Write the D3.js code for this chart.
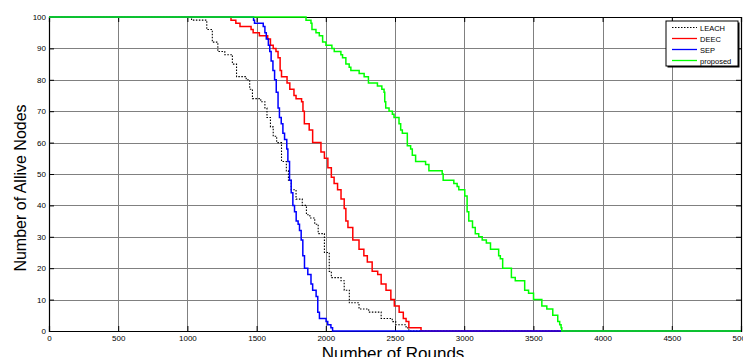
<!DOCTYPE html>
<html>
<head>
<meta charset="utf-8">
<script src="https://cdn.jsdelivr.net/npm/d3@7"></script>
<style>
  body { margin: 0; background: #fff; }
  svg { display: block; font-family: Arial, "Liberation Sans", sans-serif; }
</style>
</head>
<body>
<div id="chart"></div>
<script>
// data: [round, alive nodes] where the count changes
const leach = [[0,100],[1030,99],[1140,96],[1180,92],[1220,89],[1270,88],[1325,85],[1355,81],[1425,80],[1450,77],[1470,74],[1530,73],[1560,71],[1575,68],[1600,65],[1620,62],[1645,60],[1680,54],[1715,51],[1730,48],[1750,45],[1785,42],[1830,40],[1860,37],[1885,36],[1920,34],[1945,31],[1990,25],[2025,19],[2040,17],[2110,16],[2133,13],[2170,9],[2240,7],[2310,6],[2400,4],[2480,3],[2505,2],[2580,1],[2600,0],[5000,0]];
const deec = [[0,100],[1315,99],[1350,98],[1380,97],[1460,96],[1475,95],[1520,94],[1580,93],[1600,91],[1620,90],[1640,89],[1655,87],[1670,83],[1680,81],[1720,79],[1740,77],[1770,75],[1785,74],[1825,73],[1835,70],[1845,66],[1880,64],[1905,60],[1965,57],[1990,55],[2015,52],[2040,49],[2060,47],[2085,45],[2110,42],[2133,39],[2145,35],[2160,33],[2195,29],[2240,26],[2275,24],[2300,22],[2335,19],[2375,18],[2400,15],[2435,13],[2470,10],[2495,8],[2530,6],[2560,4],[2580,3],[2600,1],[2688,0],[5000,0]];
const sep = [[0,100],[1478,99],[1485,98],[1548,97],[1560,95],[1570,93],[1585,91],[1595,89],[1605,86],[1618,83],[1630,80],[1642,76],[1655,71],[1665,68],[1678,66],[1690,63],[1702,61],[1718,58],[1726,54],[1738,48],[1750,44],[1762,40],[1774,38],[1786,35],[1800,34],[1810,32],[1822,29],[1834,24],[1846,20],[1870,18],[1893,15],[1905,13],[1930,11],[1942,6],[1954,4],[2002,3],[2014,2],[2037,1],[2049,0],[5000,0]];
const proposed = [[0,100],[1857,99],[1893,98],[1900,96],[1929,95],[1953,94],[1977,92],[2001,91],[2044,90],[2061,89],[2109,88],[2121,87],[2145,85],[2169,84],[2181,83],[2241,82],[2277,81],[2308,79],[2373,78],[2405,77],[2421,76],[2426,73],[2433,71],[2457,70],[2481,69],[2493,68],[2529,66],[2541,64],[2553,63],[2589,59],[2613,58],[2625,56],[2649,54],[2721,53],[2745,51],[2841,50],[2848,48],[2925,47],[2949,46],[2961,45],[3004,43],[3021,38],[3033,35],[3060,33],[3080,31],[3105,30],[3130,29],[3160,28],[3190,26],[3249,24],[3261,23],[3278,20],[3341,17],[3369,16],[3437,13],[3465,12],[3501,10],[3561,8],[3597,7],[3640,5],[3676,3],[3690,2],[3700,1],[3705,0],[5000,0]];

const xTicks = [0,500,1000,1500,2000,2500,3000,3500,4000,4500,5000];
const yTicks = [0,10,20,30,40,50,60,70,80,90,100];
const seriesNames = ["LEACH","DEEC","SEP","proposed"];
const seriesData = [leach, deec, sep, proposed];
const seriesColors = ["#000000","#ff0000","#0000ff","#00ff00"];

const W = 743, H = 357;
const margin = {top: 17, right: 2, bottom: 26, left: 49};

let svg = d3.select('#chart')
  .append("svg")
    .attr("width", W)
    .attr("height", H);

let scalex = d3.scaleLinear()
  .domain([0, 5000])
  .range([margin.left, W - margin.right]);
let scaley = d3.scaleLinear()
  .domain([0, 100])
  .range([H - margin.bottom, margin.top]);

let x0 = scalex(0), x1 = scalex(5000), y0 = scaley(0), y1 = scaley(100);

// grid
let grid = svg.append("g").attr("stroke", "#808080").attr("stroke-width", 1);
xTicks.forEach(t => {
  grid.append("line")
    .attr("x1", Math.round(scalex(t)) + 0.5).attr("x2", Math.round(scalex(t)) + 0.5)
    .attr("y1", y1).attr("y2", y0);
});
yTicks.forEach(t => {
  grid.append("line")
    .attr("x1", x0).attr("x2", x1)
    .attr("y1", Math.round(scaley(t)) + 0.5).attr("y2", Math.round(scaley(t)) + 0.5);
});

// axes, ticks pointing inward like matlab
let xaxis = d3.axisBottom(scalex).tickValues(xTicks).tickSize(-5).tickPadding(4).tickFormat(d3.format("d"));
let xaxisTop = d3.axisTop(scalex).tickValues(xTicks).tickSize(-5).tickFormat("");
let yaxis = d3.axisLeft(scaley).tickValues(yTicks).tickSize(-5).tickPadding(3).tickFormat(d3.format("d"));
let yaxisRight = d3.axisRight(scaley).tickValues(yTicks).tickSize(-5).tickFormat("");

svg.append("g").attr("transform", "translate(0," + y0 + ")").call(xaxis);
svg.append("g").attr("transform", "translate(0," + y1 + ")").call(xaxisTop);
svg.append("g").attr("transform", "translate(" + x0 + ",0)").call(yaxis);
svg.append("g").attr("transform", "translate(" + x1 + ",0)").call(yaxisRight);

svg.selectAll(".domain").attr("stroke", "#000").attr("stroke-width", 1.2);
svg.selectAll(".tick line").attr("stroke", "#000");
svg.selectAll(".tick text").attr("font-size", 8).attr("fill", "#000")
  .attr("font-family", "Arial, 'Liberation Sans', sans-serif");

// series
let line = d3.line()
  .x(d => scalex(d[0]))
  .y(d => scaley(d[1]))
  .curve(d3.curveStepAfter);

seriesData.forEach((data, i) => {
  svg.append("path")
    .datum(data)
    .attr("fill", "none")
    .attr("stroke", seriesColors[i])
    .attr("stroke-width", i == 0 ? 1.1 : 1.5)
    .attr("stroke-dasharray", i == 0 ? "1.5,1.5" : null)
    .attr("d", line);
});

// axis titles
svg.append("text")
  .attr("x", (x0 + x1) / 2 - 2)
  .attr("y", 359)
  .attr("text-anchor", "middle")
  .attr("font-size", 17)
  .text("Number of Rounds");

svg.append("text")
  .attr("transform", "translate(26,188) rotate(-90)")
  .attr("text-anchor", "middle")
  .attr("font-size", 16)
  .text("Number of Allive Nodes");

// legend
let lg = svg.append("g").attr("transform", "translate(666,21)");
lg.append("rect").attr("x", 1.5).attr("y", 1.5).attr("width", 72).attr("height", 45)
  .attr("fill", "#000");
lg.append("rect").attr("x", 0).attr("y", 0).attr("width", 72).attr("height", 45)
  .attr("fill", "#fff").attr("stroke", "#000").attr("stroke-width", 1);
seriesNames.forEach((name, i) => {
  let yy = 6.5 + i * 11;
  lg.append("line")
    .attr("x1", 6).attr("x2", 31).attr("y1", yy).attr("y2", yy)
    .attr("stroke", seriesColors[i])
    .attr("stroke-width", i == 0 ? 1 : 1.3)
    .attr("stroke-dasharray", i == 0 ? "1.5,1.5" : null);
  lg.append("text")
    .attr("x", 34).attr("y", yy + 3)
    .attr("font-size", 7.5)
    .text(name);
});
</script>
</body>
</html>
